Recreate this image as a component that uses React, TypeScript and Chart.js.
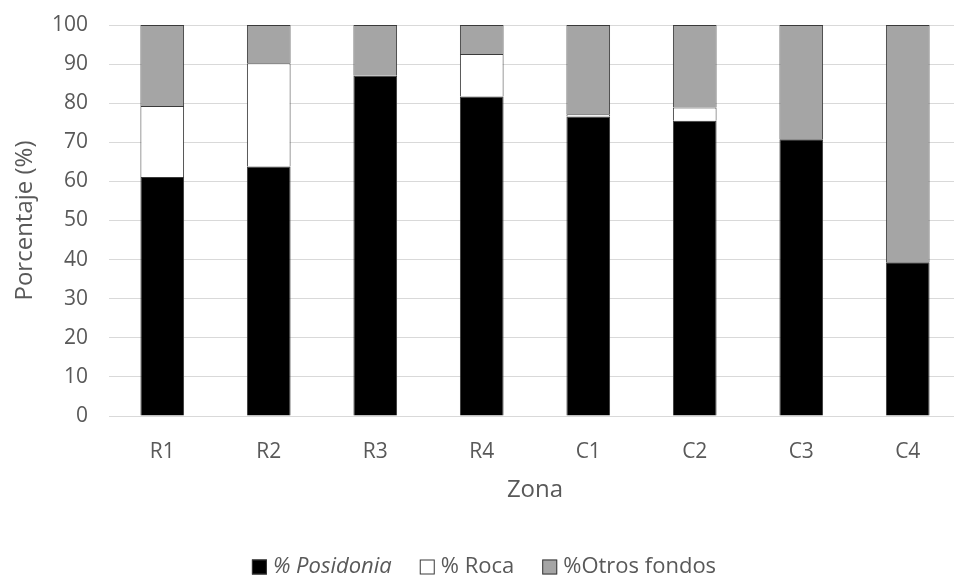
import React, { useEffect, useRef } from "react";
import { Chart, registerables } from "chart.js";

Chart.register(...registerables);

const zonas = ["R1", "R2", "R3", "R4", "C1", "C2", "C3", "C4"];
const posidonia = [61.1, 63.8, 87.0, 81.7, 76.6, 75.5, 70.8, 39.3];
const roca = [18.2, 26.4, 0, 10.9, 0.6, 3.4, 0, 0];
const otrosFondos = [20.7, 9.8, 13.0, 7.4, 22.8, 21.1, 29.2, 60.7];
const yTicks = [0, 10, 20, 30, 40, 50, 60, 70, 80, 90, 100];

const FONT = "'Open Sans', 'DejaVu Sans', sans-serif";
const TEXT = "#595959";
const EDGE = "#3a3a3a";

const seriesLegend = [
  { label: "% Posidonia", fill: "#000000", italic: true },
  { label: "% Roca", fill: "#ffffff", italic: false },
  { label: "%Otros fondos", fill: "#a5a5a5", italic: false },
];

// Legend row drawn under the axis title, with the first entry in italics.
const bottomLegend = {
  id: "bottomLegend",
  afterDraw(chart: Chart) {
    const ctx = chart.ctx;
    const box = 15;
    const gapBoxText = 6;
    const gapItems = 28;
    const cy = 567;
    ctx.save();
    ctx.textBaseline = "middle";
    ctx.textAlign = "left";
    const widths = seriesLegend.map((it) => {
      ctx.font = `${it.italic ? "italic " : ""}22px ${FONT}`;
      return ctx.measureText(it.label).width;
    });
    const total =
      widths.reduce((a, w) => a + box + gapBoxText + w, 0) +
      gapItems * (seriesLegend.length - 1);
    let x = chart.width / 2 - total / 2;
    seriesLegend.forEach((it, i) => {
      ctx.fillStyle = it.fill;
      ctx.fillRect(x, cy - box / 2, box, box);
      ctx.strokeStyle = EDGE;
      ctx.lineWidth = 1;
      ctx.strokeRect(x + 0.5, cy - box / 2 + 0.5, box - 1, box - 1);
      x += box + gapBoxText;
      ctx.font = `${it.italic ? "italic " : ""}22px ${FONT}`;
      ctx.fillStyle = TEXT;
      ctx.fillText(it.label, x, cy);
      x += widths[i] + gapItems;
    });
    ctx.restore();
  },
};

export default function App() {
  const canvasRef = useRef<HTMLCanvasElement | null>(null);

  useEffect(() => {
    if (!canvasRef.current) return;
    const chart = new Chart(canvasRef.current, {
      type: "bar",
      data: {
        labels: zonas,
        datasets: [
          {
            label: "% Posidonia",
            data: posidonia,
            backgroundColor: "#000000",
            borderColor: EDGE,
            borderWidth: 1,
          },
          {
            label: "% Roca",
            data: roca,
            backgroundColor: "#ffffff",
            borderColor: EDGE,
            borderWidth: 1,
          },
          {
            label: "%Otros fondos",
            data: otrosFondos,
            backgroundColor: "#a5a5a5",
            borderColor: EDGE,
            borderWidth: 1,
          },
        ],
      },
      options: {
        animation: false,
        responsive: false,
        devicePixelRatio: 1,
        datasets: {
          bar: { barPercentage: 0.41, categoryPercentage: 1 },
        },
        layout: { padding: { top: 25, right: 7, bottom: 60, left: 4 } },
        plugins: {
          legend: { display: false },
          tooltip: { enabled: false },
        },
        scales: {
          x: {
            stacked: true,
            grid: { display: false },
            border: { display: false },
            ticks: {
              padding: 15,
              color: TEXT,
              font: { family: FONT, size: 21 },
            },
            title: {
              display: true,
              text: "Zona",
              color: TEXT,
              font: { family: FONT, size: 24 },
              padding: { top: 0, bottom: 11 },
            },
            afterFit: (s: any) => {
              s.height = 100;
            },
          },
          y: {
            stacked: true,
            min: 0,
            max: 100,
            afterBuildTicks: (s: any) => {
              s.ticks = yTicks.map((v) => ({ value: v }));
            },
            grid: { color: "#d9d9d9", lineWidth: 1, drawTicks: false },
            border: { display: false },
            ticks: {
              padding: 21,
              color: TEXT,
              font: { family: FONT, size: 21 },
            },
            title: {
              display: true,
              text: "Porcentaje (%)",
              color: TEXT,
              font: { family: FONT, size: 24 },
              padding: { top: 7, bottom: 0 },
            },
            afterFit: (s: any) => {
              s.width = 105;
              s.paddingTop = 0;
              s.paddingBottom = 0;
            },
          },
        },
      },
      plugins: [bottomLegend],
    });
    return () => chart.destroy();
  }, []);

  return (
    <div
      style={{
        position: "absolute",
        left: 0,
        top: 0,
        width: 954,
        height: 576,
        overflow: "hidden",
        background: "#ffffff",
      }}
    >
      <canvas ref={canvasRef} width={968} height={576} />
    </div>
  );
}
